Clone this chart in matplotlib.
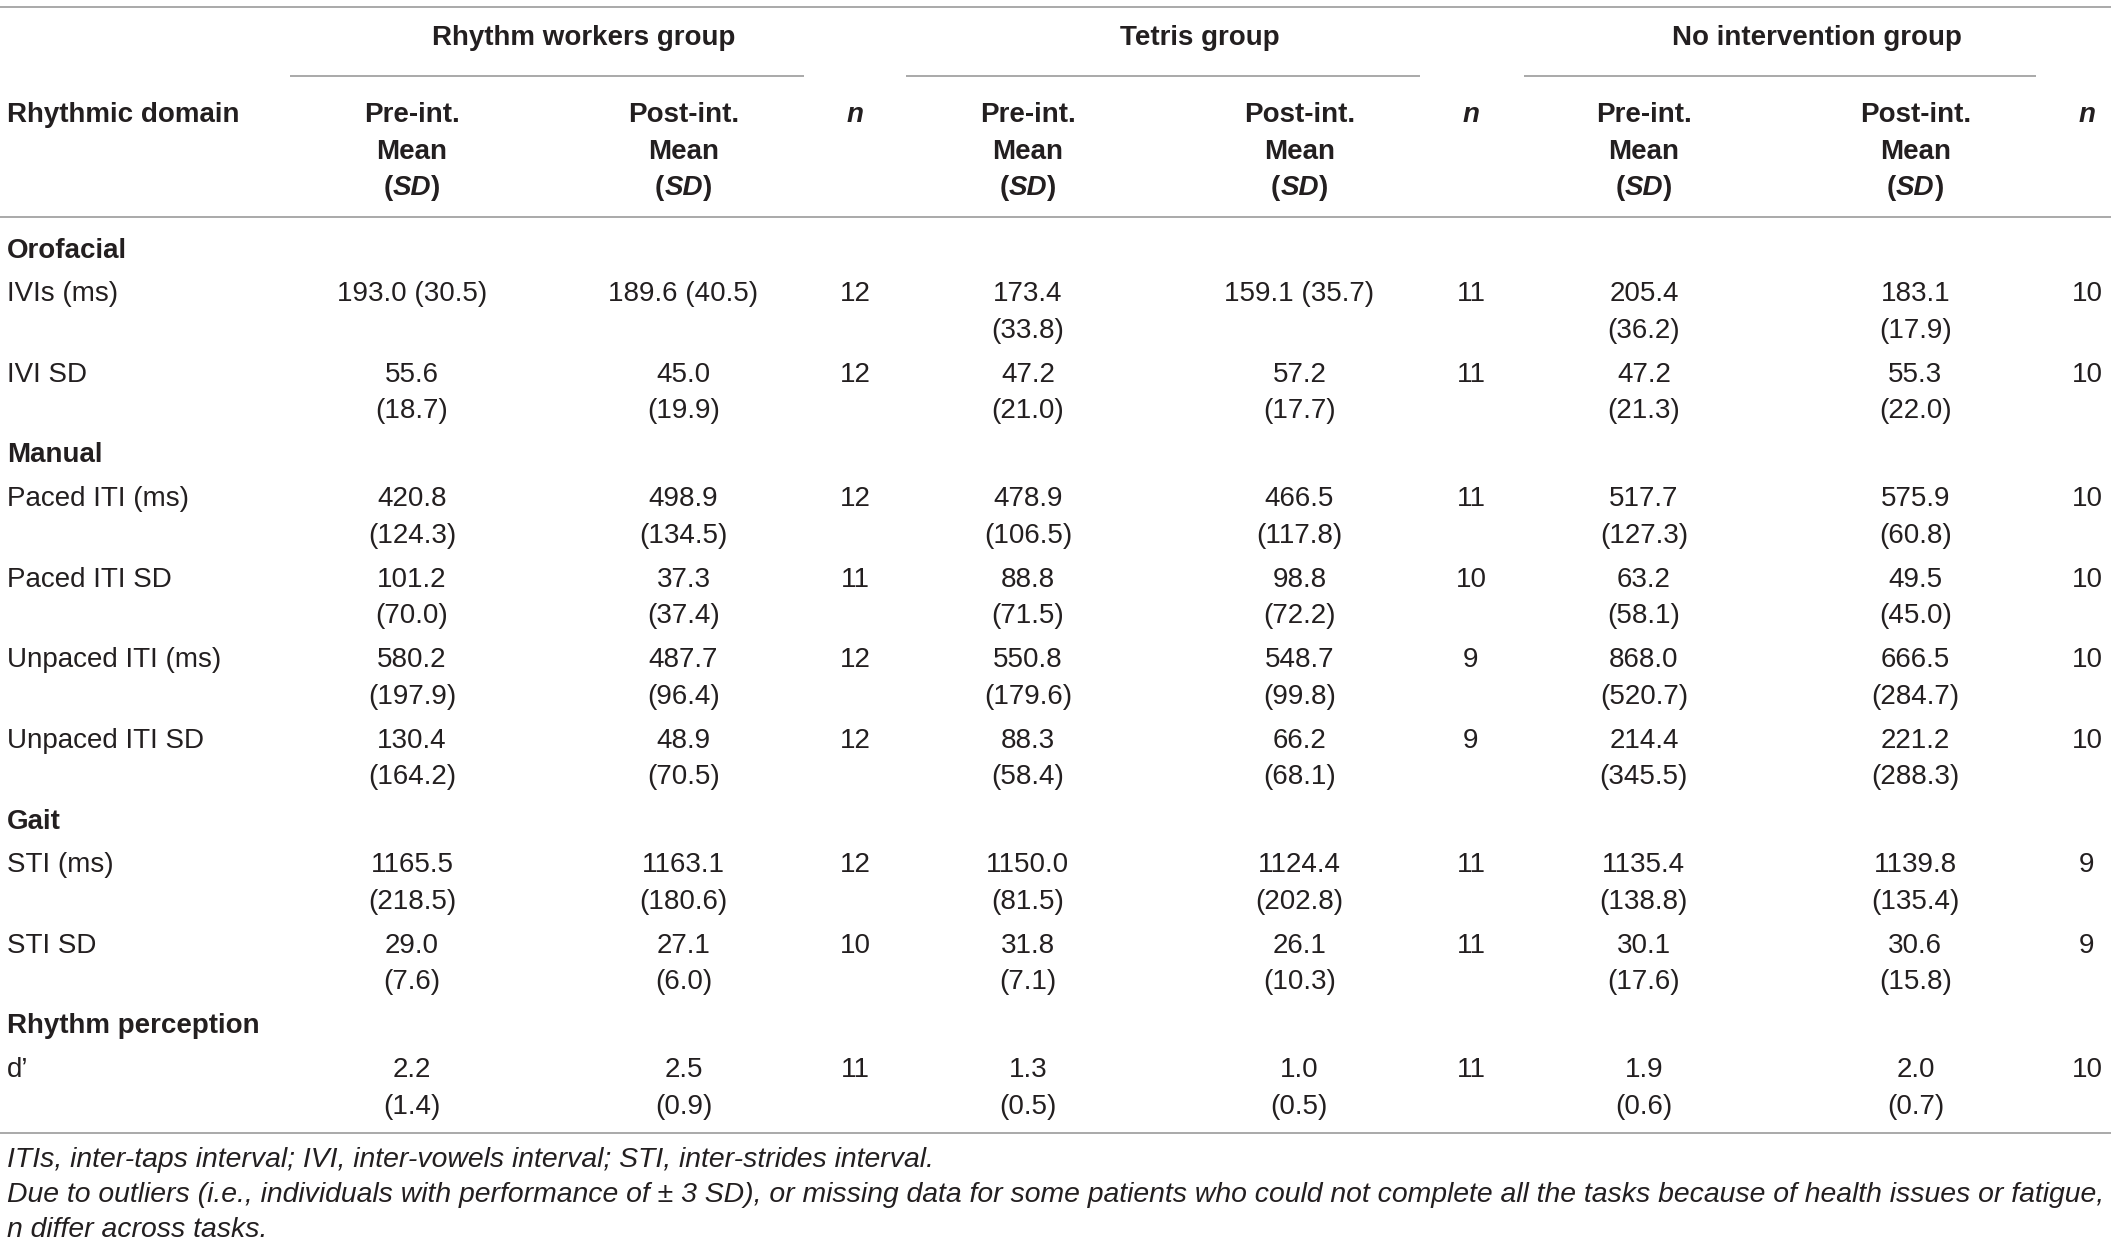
import matplotlib
matplotlib.use("Agg")
import matplotlib.pyplot as plt

plt.rcParams['font.family'] = ['Liberation Sans', 'DejaVu Sans']

# ---------------- data ----------------
groups = ["Rhythm workers group", "Tetris group", "No intervention group"]
sections = ["Orofacial", "Manual", "Gait", "Rhythm perception"]
section_rows = [
    ["IVIs (ms)", "IVI SD"],
    ["Paced ITI (ms)", "Paced ITI SD", "Unpaced ITI (ms)", "Unpaced ITI SD"],
    ["STI (ms)", "STI SD"],
    ["d\u2019"],
]
# per measure: mean / SD, per group (RW, Tetris, NoInt)
rw_pre_mean  = [193.0, 55.6, 420.8, 101.2, 580.2, 130.4, 1165.5, 29.0, 2.2]
rw_pre_sd    = [30.5, 18.7, 124.3, 70.0, 197.9, 164.2, 218.5, 7.6, 1.4]
rw_post_mean = [189.6, 45.0, 498.9, 37.3, 487.7, 48.9, 1163.1, 27.1, 2.5]
rw_post_sd   = [40.5, 19.9, 134.5, 37.4, 96.4, 70.5, 180.6, 6.0, 0.9]
rw_n         = [12, 12, 12, 11, 12, 12, 12, 10, 11]

te_pre_mean  = [173.4, 47.2, 478.9, 88.8, 550.8, 88.3, 1150.0, 31.8, 1.3]
te_pre_sd    = [33.8, 21.0, 106.5, 71.5, 179.6, 58.4, 81.5, 7.1, 0.5]
te_post_mean = [159.1, 57.2, 466.5, 98.8, 548.7, 66.2, 1124.4, 26.1, 1.0]
te_post_sd   = [35.7, 17.7, 117.8, 72.2, 99.8, 68.1, 202.8, 10.3, 0.5]
te_n         = [11, 11, 11, 10, 9, 9, 11, 11, 11]

ni_pre_mean  = [205.4, 47.2, 517.7, 63.2, 868.0, 214.4, 1135.4, 30.1, 1.9]
ni_pre_sd    = [36.2, 21.3, 127.3, 58.1, 520.7, 345.5, 138.8, 17.6, 0.6]
ni_post_mean = [183.1, 55.3, 575.9, 49.5, 666.5, 221.2, 1139.8, 30.6, 2.0]
ni_post_sd   = [17.9, 22.0, 60.8, 45.0, 284.7, 288.3, 135.4, 15.8, 0.7]
ni_n         = [10, 10, 10, 10, 10, 10, 9, 9, 10]

footnotes = [
    "ITIs, inter-taps interval; IVI, inter-vowels interval; STI, inter-strides interval.",
    "Due to outliers (i.e., individuals with performance of \u00b1 3 SD), or missing data for some patients who could not complete all the tasks because of health issues or fatigue,",
    "n differ across tasks.",
]

# cells printed on one line (layout): (measure index, column index)
single_line = {(0, 0), (0, 1), (0, 4)}

# ---------------- layout ----------------
W, H = 1568.0, 924.0
fig = plt.figure(figsize=(21.18, 12.48), dpi=100)
ax = fig.add_axes([0, 0, 1, 1])
ax.set_xlim(0, W)
ax.set_ylim(H, 0)
ax.axis("off")

FS = 20
FS_NOTE = 20.4
TXT = "#231f20"
LC = "#a3a3a3"
LW = 1.3
LINE_H = 27
DY = 1.5  # small vertical nudge of text centres

group_center = [432, 888, 1345]
group_line = [(215, 595), (671, 1051), (1128, 1507)]
col_x = [305, 506, 633, 761, 962, 1089, 1217, 1418, 1545]

fig.canvas.draw()
renderer = fig.canvas.get_renderer()
px2data = W / fig.bbox.width


def txt(x, y, s, **kw):
    kw.setdefault("fontsize", FS)
    kw.setdefault("color", TXT)
    kw.setdefault("va", "center")
    return ax.text(x, y + DY, s, **kw)


def rich(x, y, segs):
    """segs: list of (text, weight, style); centred at x."""
    objs = [txt(0, y, s, fontweight=w, fontstyle=st, ha="left")
            for s, w, st in segs]
    widths = [o.get_window_extent(renderer).width * px2data for o in objs]
    cx = x - sum(widths) / 2
    for o, wd in zip(objs, widths):
        o.set_x(cx)
        cx += wd


def hline(y, x0=0, x1=1563):
    ax.plot([x0, x1], [y, y], color=LC, lw=LW, solid_capstyle="butt")


# top rule
hline(5)
for gname, gc, (a, b) in zip(groups, group_center, group_line):
    txt(gc, 27, gname, fontweight="bold", ha="center")
    hline(56, a, b)

txt(5, 84, "Rhythmic domain", fontweight="bold", ha="left")
for g in range(3):
    for k, lab in enumerate(["Pre-int.", "Post-int."]):
        x = col_x[g * 3 + k]
        txt(x, 84, lab, fontweight="bold", ha="center")
        txt(x, 111, "Mean", fontweight="bold", ha="center")
        rich(x, 138, [("(", "bold", "normal"), ("SD", "bold", "italic"),
                      (")", "bold", "normal")])
    txt(col_x[g * 3 + 2], 84, "n", fontweight="bold", fontstyle="italic",
        ha="center")
hline(161)

cols = [
    (rw_pre_mean, rw_pre_sd), (rw_post_mean, rw_post_sd), rw_n,
    (te_pre_mean, te_pre_sd), (te_post_mean, te_post_sd), te_n,
    (ni_pre_mean, ni_pre_sd), (ni_post_mean, ni_post_sd), ni_n,
]

SEC_GAP = 32.3
ROW_GAP = 59.7
y = 184
m = 0
for sec, rows in zip(sections, section_rows):
    txt(5, y, sec, fontweight="bold", ha="left")
    y += SEC_GAP
    for lab in rows:
        txt(5, y, lab, ha="left")
        for c, col in enumerate(cols):
            if isinstance(col, tuple):
                mean, sd = col[0][m], col[1][m]
                if (m, c) in single_line:
                    txt(col_x[c], y, f"{mean:.1f} ({sd:.1f})", ha="center")
                else:
                    txt(col_x[c], y, f"{mean:.1f}", ha="center")
                    txt(col_x[c], y + LINE_H, f"({sd:.1f})", ha="center")
            else:
                txt(col_x[c], y, f"{col[m]}", ha="center")
        m += 1
        y += ROW_GAP

hline(839)
for i, t in enumerate(footnotes):
    txt(5, 857 + i * 26, t, fontsize=FS_NOTE, fontstyle="italic", ha="left")

fig.savefig("out.png", dpi=100, facecolor="white")
